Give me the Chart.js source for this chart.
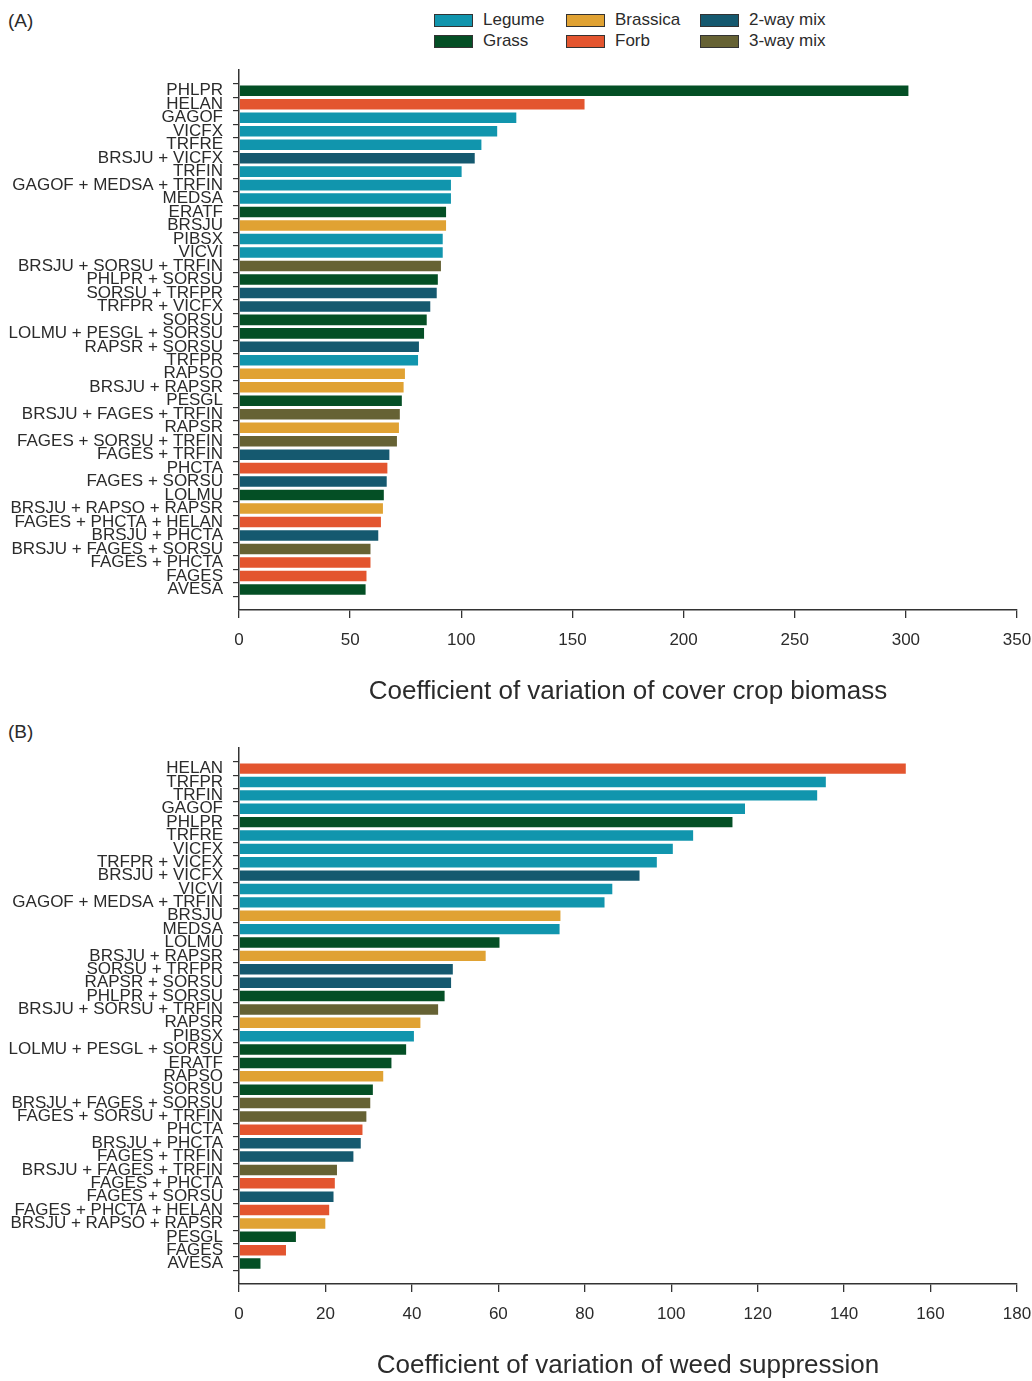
<!DOCTYPE html>
<html>
<head>
<meta charset="utf-8">
<script src="https://cdn.jsdelivr.net/npm/chart.js@4.4.1/dist/chart.umd.min.js"></script>
<style>
  body { margin: 0; background: #fff; font-family: "Liberation Sans", Arial, sans-serif; color: #2b2b2b; }
  .panel { position: absolute; left: 8px; font-size: 19px; }
  .box { position: absolute; }
  .legend { position: absolute; left: 0; top: 0; width: 1032px; height: 50px; font-size: 17px; }
  .item { position: absolute; display: flex; align-items: center; height: 16px; }
  .swatch { width: 37px; height: 11px; border: 1px solid #333; margin-right: 10px; }
</style>
</head>
<body>
<div class="panel" style="top:10px">(A)</div>
<div class="legend" id="legend"></div>
<div class="box" style="left:0;top:50px;width:1032px;height:660px"><canvas id="chartA"></canvas></div>
<div class="panel" style="top:721px">(B)</div>
<div class="box" style="left:0;top:728px;width:1032px;height:653px"><canvas id="chartB"></canvas></div>
<script>
// panel A: cover crop biomass CV
const labelsA = [
  'PHLPR', 'HELAN', 'GAGOF', 'VICFX', 'TRFRE', 'BRSJU + VICFX', 'TRFIN',
  'GAGOF + MEDSA + TRFIN', 'MEDSA', 'ERATF', 'BRSJU', 'PIBSX', 'VICVI',
  'BRSJU + SORSU + TRFIN', 'PHLPR + SORSU', 'SORSU + TRFPR', 'TRFPR + VICFX',
  'SORSU', 'LOLMU + PESGL + SORSU', 'RAPSR + SORSU', 'TRFPR', 'RAPSO',
  'BRSJU + RAPSR', 'PESGL', 'BRSJU + FAGES + TRFIN', 'RAPSR',
  'FAGES + SORSU + TRFIN', 'FAGES + TRFIN', 'PHCTA', 'FAGES + SORSU', 'LOLMU',
  'BRSJU + RAPSO + RAPSR', 'FAGES + PHCTA + HELAN', 'BRSJU + PHCTA',
  'BRSJU + FAGES + SORSU', 'FAGES + PHCTA', 'FAGES', 'AVESA'
];
const valuesA = [
  301.6, 155.9, 125.2, 116.6, 109.5, 106.5, 100.6, 95.8, 95.8, 93.6, 93.6,
  92.1, 92.1, 91.3, 89.9, 89.4, 86.5, 84.9, 83.7, 81.4, 81.0, 75.1, 74.5,
  73.7, 72.8, 72.4, 71.5, 68.1, 67.2, 66.9, 65.6, 65.2, 64.3, 63.1, 59.6,
  59.6, 57.8, 57.4
];
const groupsA = [
  'Grass', 'Forb', 'Legume', 'Legume', 'Legume', '2-way mix', 'Legume',
  'Legume', 'Legume', 'Grass', 'Brassica', 'Legume', 'Legume',
  '3-way mix', 'Grass', '2-way mix', '2-way mix',
  'Grass', 'Grass', '2-way mix', 'Legume', 'Brassica',
  'Brassica', 'Grass', '3-way mix', 'Brassica',
  '3-way mix', '2-way mix', 'Forb', '2-way mix', 'Grass',
  'Brassica', 'Forb', '2-way mix',
  '3-way mix', 'Forb', 'Forb', 'Grass'
];

// panel B: weed suppression CV
const labelsB = [
  'HELAN', 'TRFPR', 'TRFIN', 'GAGOF', 'PHLPR', 'TRFRE', 'VICFX',
  'TRFPR + VICFX', 'BRSJU + VICFX', 'VICVI', 'GAGOF + MEDSA + TRFIN', 'BRSJU',
  'MEDSA', 'LOLMU', 'BRSJU + RAPSR', 'SORSU + TRFPR', 'RAPSR + SORSU',
  'PHLPR + SORSU', 'BRSJU + SORSU + TRFIN', 'RAPSR', 'PIBSX',
  'LOLMU + PESGL + SORSU', 'ERATF', 'RAPSO', 'SORSU', 'BRSJU + FAGES + SORSU',
  'FAGES + SORSU + TRFIN', 'PHCTA', 'BRSJU + PHCTA', 'FAGES + TRFIN',
  'BRSJU + FAGES + TRFIN', 'FAGES + PHCTA', 'FAGES + SORSU',
  'FAGES + PHCTA + HELAN', 'BRSJU + RAPSO + RAPSR', 'PESGL', 'FAGES', 'AVESA'
];
const valuesB = [
  154.5, 136.0, 134.0, 117.3, 114.4, 105.3, 100.6, 96.9, 92.9, 86.6, 84.8,
  74.6, 74.4, 60.5, 57.3, 49.7, 49.3, 47.8, 46.3, 42.2, 40.7, 38.9, 35.5,
  33.6, 31.2, 30.6, 29.7, 28.8, 28.4, 26.7, 22.9, 22.4, 22.1, 21.1, 20.2,
  13.4, 11.1, 5.2
];
const groupsB = [
  'Forb', 'Legume', 'Legume', 'Legume', 'Grass', 'Legume', 'Legume',
  'Legume', '2-way mix', 'Legume', 'Legume', 'Brassica',
  'Legume', 'Grass', 'Brassica', '2-way mix', '2-way mix',
  'Grass', '3-way mix', 'Brassica', 'Legume',
  'Grass', 'Grass', 'Brassica', 'Grass', '3-way mix',
  '3-way mix', 'Forb', '2-way mix', '2-way mix',
  '3-way mix', 'Forb', '2-way mix',
  'Forb', 'Brassica', 'Grass', 'Forb', 'Grass'
];

const legendOrder = ['Legume', 'Brassica', '2-way mix', 'Grass', 'Forb', '3-way mix'];

const groupColors = {
  'Legume': '#1195ad',
  'Grass': '#044f25',
  'Brassica': '#e0a233',
  'Forb': '#e3552f',
  '2-way mix': '#15596f',
  '3-way mix': '#666234'
};
const ink = '#2b2b2b';

Chart.defaults.font.family = '"Liberation Sans", Arial, sans-serif';
Chart.defaults.color = ink;

// html legend, 3 columns x 2 rows
const legendCols = [434, 566, 700];
const legendRows = [12, 33];
legendOrder.forEach((name, i) => {
  const item = document.createElement('div');
  item.className = 'item';
  item.style.left = legendCols[i % 3] + 'px';
  item.style.top = legendRows[Math.floor(i / 3)] + 'px';
  const sw = document.createElement('span');
  sw.className = 'swatch';
  sw.style.background = groupColors[name];
  item.append(sw, document.createTextNode(name));
  document.getElementById('legend').append(item);
});

function initChart(id, labels, values, groups, xMax, xStep, title, xHeight, titlePad) {
  return new Chart(document.getElementById(id), {
    type: 'bar',
    data: {
      datasets: [{
        data: values.map((v, i) => ({ x: v, y: i })),
        backgroundColor: groups.map(g => groupColors[g]),
        borderColor: 'rgba(255,255,255,0.4)',
        borderWidth: 1,
        categoryPercentage: 1,
        barPercentage: 0.93
      }]
    },
    options: {
      indexAxis: 'y',
      animation: false,
      responsive: true,
      maintainAspectRatio: false,
      layout: { padding: { top: 18, right: 2, left: 0, bottom: 0 } },
      plugins: { legend: { display: false }, tooltip: { enabled: false } },
      scales: {
        x: {
          type: 'linear',
          min: 0,
          max: xMax,
          ticks: { stepSize: xStep, font: { size: 17 }, padding: 12, color: ink },
          grid: { drawOnChartArea: false, tickLength: 8, color: '#333', lineWidth: 1.3 },
          border: { color: '#333', width: 1.5 },
          title: { display: true, text: title, font: { size: 26 }, color: ink, padding: { top: 0, bottom: titlePad } },
          afterFit: scale => {
            scale.height = xHeight;
            scale.paddingRight = 15;
          }
        },
        y: {
          type: 'linear',
          reverse: true,
          min: -1,
          max: 38,
          afterBuildTicks: axis => { axis.ticks = labels.map((_, i) => ({ value: i })); },
          ticks: {
            autoSkip: false,
            callback: v => labels[v],
            font: { size: 17 },
            padding: 10,
            color: ink
          },
          grid: { drawOnChartArea: false, tickLength: 6, color: '#333', lineWidth: 1.2 },
          border: { color: '#333', width: 1.5 },
          afterFit: scale => { scale.width = 239; }
        }
      }
    }
  });
}

initChart('chartA', labelsA, valuesA, groupsA, 350, 50,
  'Coefficient of variation of cover crop biomass', 100, 3);
initChart('chartB', labelsB, valuesB, groupsB, 180, 20,
  'Coefficient of variation of weed suppression', 97, 0);
</script>
</body>
</html>
